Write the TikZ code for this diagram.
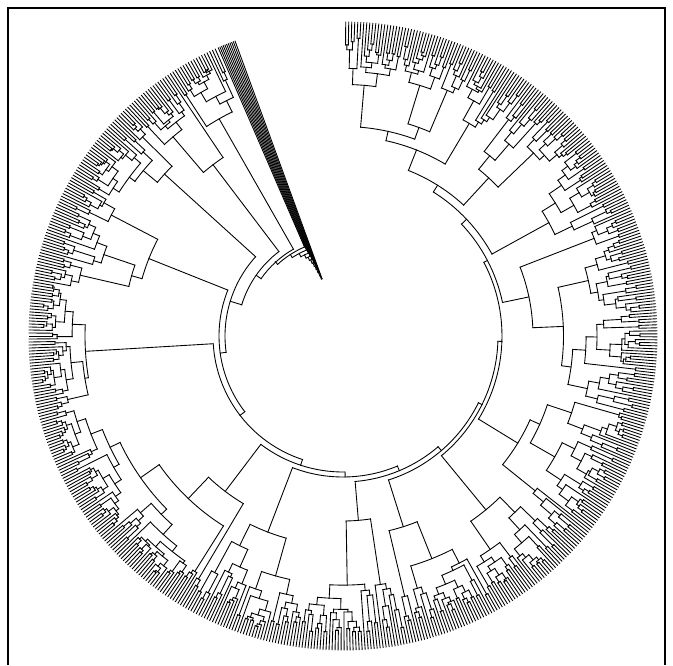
\documentclass[tikz,border=0pt]{standalone}
\usepackage{tikz}

\newcommand\Rout{314}
\newcommand\leafgap{0.55}

% clade with leaves #1..#2 (deg), stem from radius #3
\newcommand\clade[3]{%
  \begingroup
  \pgfmathsetmacro\angfirst{#1}%
  \pgfmathsetmacro\anglast{#2}%
  \pgfmathsetmacro\rparent{#3}%
  \pgfmathtruncatemacro\nleaf{round((\anglast-\angfirst)/\leafgap)+1}%
  \ifnum\nleaf<2
    \draw[treeline] (\angfirst:\rparent) -- (\angfirst:\Rout);
    \xdef\cladeangle{\angfirst}%
  \else
    \pgfmathsetmacro\hnode{(6+24*ln(\nleaf))*(0.7+0.6*rnd)}%
    \pgfmathsetmacro\rnode{min(\Rout-4,max(\rparent+(\Rout-\rparent)*(0.06+0.2*rnd),\Rout-\hnode))}%
    \edef\next{\noexpand\cladesplit{\angfirst}{\anglast}{\rparent}{\rnode}}\next
  \fi
  \endgroup}

% same, node radius given as #4
\newcommand\cladeat[4]{%
  \begingroup
  \pgfmathsetmacro\angfirst{#1}%
  \pgfmathsetmacro\anglast{#2}%
  \pgfmathtruncatemacro\nleaf{round((\anglast-\angfirst)/\leafgap)+1}%
  \ifnum\nleaf<2
    \draw[treeline] (\angfirst:#3) -- (\angfirst:\Rout);
    \xdef\cladeangle{\angfirst}%
  \else
    \edef\next{\noexpand\cladesplit{\angfirst}{\anglast}{#3}{#4}}\next
  \fi
  \endgroup}

% split a clade at radius #4
\newcommand\cladesplit[4]{%
  \pgfmathtruncatemacro\nleaf{round((#2-#1)/\leafgap)+1}%
  \pgfmathtruncatemacro\kleft{min(\nleaf-1,1+floor((\nleaf-1)*rnd))}%
  \pgfmathsetmacro\endA{#1+(\kleft-1)*\leafgap}%
  \pgfmathsetmacro\startB{#1+\kleft*\leafgap}%
  \edef\next{\noexpand\clade{#1}{\endA}{#4}}\next
  \let\angA\cladeangle
  \edef\next{\noexpand\clade{\startB}{#2}{#4}}\next
  \let\angB\cladeangle
  \pgfmathsetmacro\angM{(\angA+\angB)/2}%
  \draw[treeline] (\angA:#4) arc[start angle=\angA, end angle=\angB, radius=#4];
  \draw[treeline] (\angM:#3) -- (\angM:#4);
  \xdef\cladeangle{\angM}}

% backbone node at radius #3, clade #1..#2 rooted at #4, rest goes on to #5
\newcommand\bbnode[5]{%
  \begingroup
  \cladeat{#1}{#2}{#3}{#4}%
  \let\pang\cladeangle
  \draw[treeline] (\restangle:#3) -- (\restangle:#5);
  \draw[treeline] (\pang:#3) arc[start angle=\pang, end angle=\restangle, radius=#3];
  \pgfmathsetmacro\newrest{(\pang+\restangle)/2}%
  \xdef\restangle{\newrest}%
  \endgroup}

\begin{document}
\begin{tikzpicture}[x=0.03cm,y=0.03cm,
    treeline/.style={line width=0.75pt,line cap=rect}]
  \useasboundingbox (-343,-329) rectangle (330,336);
  \draw[line width=1.3pt] (-335,-329) -- (-335,328) -- (322,328) -- (322,-329);
  \pgfmathsetseed{2718}
  % top right clade
  \cladeat{413.75}{449.5}{178}{200}
  \xdef\restangle{\cladeangle}
  % backbone
  \bbnode{398.9}{413.2}{178}{215}{178}
  \bbnode{384.05}{398.35}{170}{235}{178}
  \bbnode{345}{383.5}{163}{190}{170}
  \bbnode{318.05}{344.45}{159}{205}{163}
  \bbnode{299.9}{317.5}{155}{225}{159}
  \bbnode{282.3}{299.35}{151}{200}{155}
  \bbnode{261.95}{281.75}{146}{185}{151}
  \bbnode{240.5}{261.4}{141}{210}{146}
  \bbnode{194.85}{239.95}{136}{195}{141}
  \bbnode{170.1}{194.3}{130}{258}{136}
  \bbnode{149.75}{169.55}{124}{209}{130}
  \bbnode{133.8}{149.2}{118}{241}{124}
  \bbnode{123.9}{133.25}{106}{215}{118}
  \bbnode{114}{123.35}{100}{250}{106}
  % comb
  \foreach \i in {0,...,10}{
    \pgfmathsetmacro\combang{113.4-0.33*\i}
    \pgfmathsetmacro\combrad{97-3.6*\i}
    \pgfmathsetmacro\combnext{100.6-3.6*\i}
    \bbnode{\combang}{\combang}{\combrad}{\combrad}{\combnext}
  }
\end{tikzpicture}
\end{document}
